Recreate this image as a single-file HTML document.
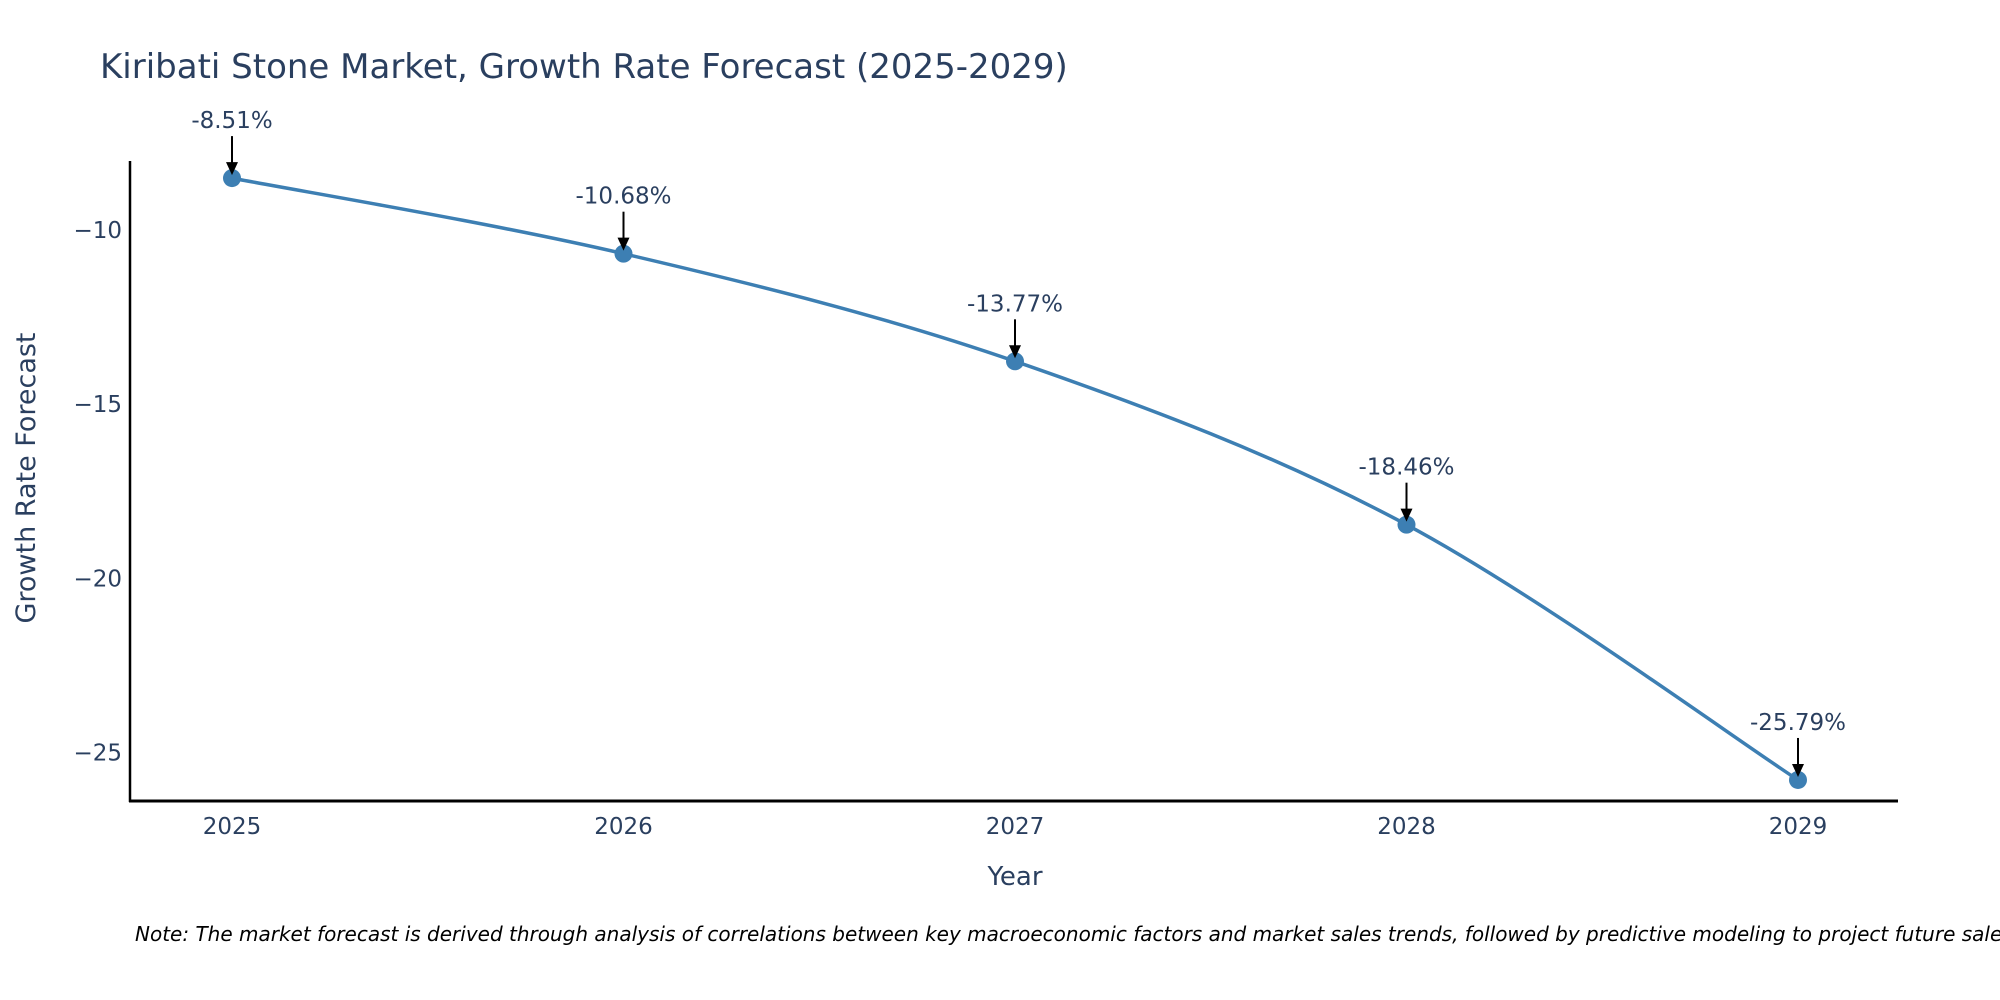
<!DOCTYPE html>
<html><head><meta charset="utf-8"><style>
body{margin:0;background:#fff}
svg{display:block;font-family:"DejaVu Sans","Liberation Sans",sans-serif}
</style></head><body>
<svg width="2000" height="1000" viewBox="0 0 2000 1000">
<text x="100" y="78" font-size="34" fill="#2a3f5f">Kiribati Stone Market, Growth Rate Forecast (2025-2029)</text>
<g id="axes"></g>
<g id="plot"></g>
<text x="1015" y="885" font-size="26" fill="#2a3f5f" text-anchor="middle">Year</text>
<text transform="translate(35,478) rotate(-90)" font-size="27" fill="#2a3f5f" text-anchor="middle">Growth Rate Forecast</text>
<text x="135" y="941" font-size="20" font-style="italic" fill="#000">Note: The market forecast is derived through analysis of correlations between key macroeconomic factors and market sales trends, followed by predictive modeling to project future sales.</text>
</svg>
<script>
const years=[2025,2026,2027,2028,2029];
const values=[-8.51,-10.68,-13.77,-18.46,-25.79];
const labels=["-8.51%","-10.68%","-13.77%","-18.46%","-25.79%"];
const yTicks=[-10,-15,-20,-25];
const yTickLabels=["\u221210","\u221215","\u221220","\u221225"];
const NS="http://www.w3.org/2000/svg";
const X=y=>232+(y-2025)*391.5;
const Y=v=>230+(-10-v)*34.83;
function mk(tag,attrs,parent){const e=document.createElementNS(NS,tag);for(const k in attrs)e.setAttribute(k,attrs[k]);parent.appendChild(e);return e;}
const axes=document.getElementById('axes'),plot=document.getElementById('plot');
let l=mk('line',{x1:130,y1:161,x2:130,y2:802,stroke:'#000','stroke-width':2.5},axes);


l=mk('line',{x1:129,y1:801,x2:1898,y2:801,stroke:'#000','stroke-width':3},axes);


yTicks.forEach((t,i)=>{const e=mk('text',{x:122,y:Y(t)+8,'font-size':23,fill:'#2a3f5f','text-anchor':'end'},axes);e.textContent=yTickLabels[i];

});
years.forEach(yr=>{const e=mk('text',{x:X(yr),y:834,'font-size':23,fill:'#2a3f5f','text-anchor':'middle'},axes);e.textContent=yr;

});
const pts=years.map((yr,i)=>[X(yr),Y(values[i])]);
let d='M'+pts[0][0]+','+pts[0][1];
for(let i=0;i<pts.length-1;i++){const p0=pts[Math.max(0,i-1)],p1=pts[i],p2=pts[i+1],p3=pts[Math.min(pts.length-1,i+2)];
const c1=[p1[0]+(p2[0]-p0[0])/6,p1[1]+(p2[1]-p0[1])/6],c2=[p2[0]-(p3[0]-p1[0])/6,p2[1]-(p3[1]-p1[1])/6];
d+=` C${c1[0]},${c1[1]} ${c2[0]},${c2[1]} ${p2[0]},${p2[1]}`;}
const path=mk('path',{d:d,fill:'none',stroke:'#3d7fb3','stroke-width':3.5},plot);


pts.forEach((p,i)=>{const c=mk('circle',{cx:p[0],cy:p[1],r:9,fill:'#3d7fb3'},plot);


const a=mk('line',{x1:p[0],y1:p[1]-42,x2:p[0],y2:p[1]-14,stroke:'#000','stroke-width':2},plot);


const h=mk('path',{d:`M${p[0]-6},${p[1]-16} L${p[0]+6},${p[1]-16} L${p[0]},${p[1]-3} Z`,fill:'#000'},plot);


const t=mk('text',{x:p[0],y:p[1]-50,'font-size':23,fill:'#2a3f5f','text-anchor':'middle'},plot);t.textContent=labels[i];

});
</script>
</body></html>
